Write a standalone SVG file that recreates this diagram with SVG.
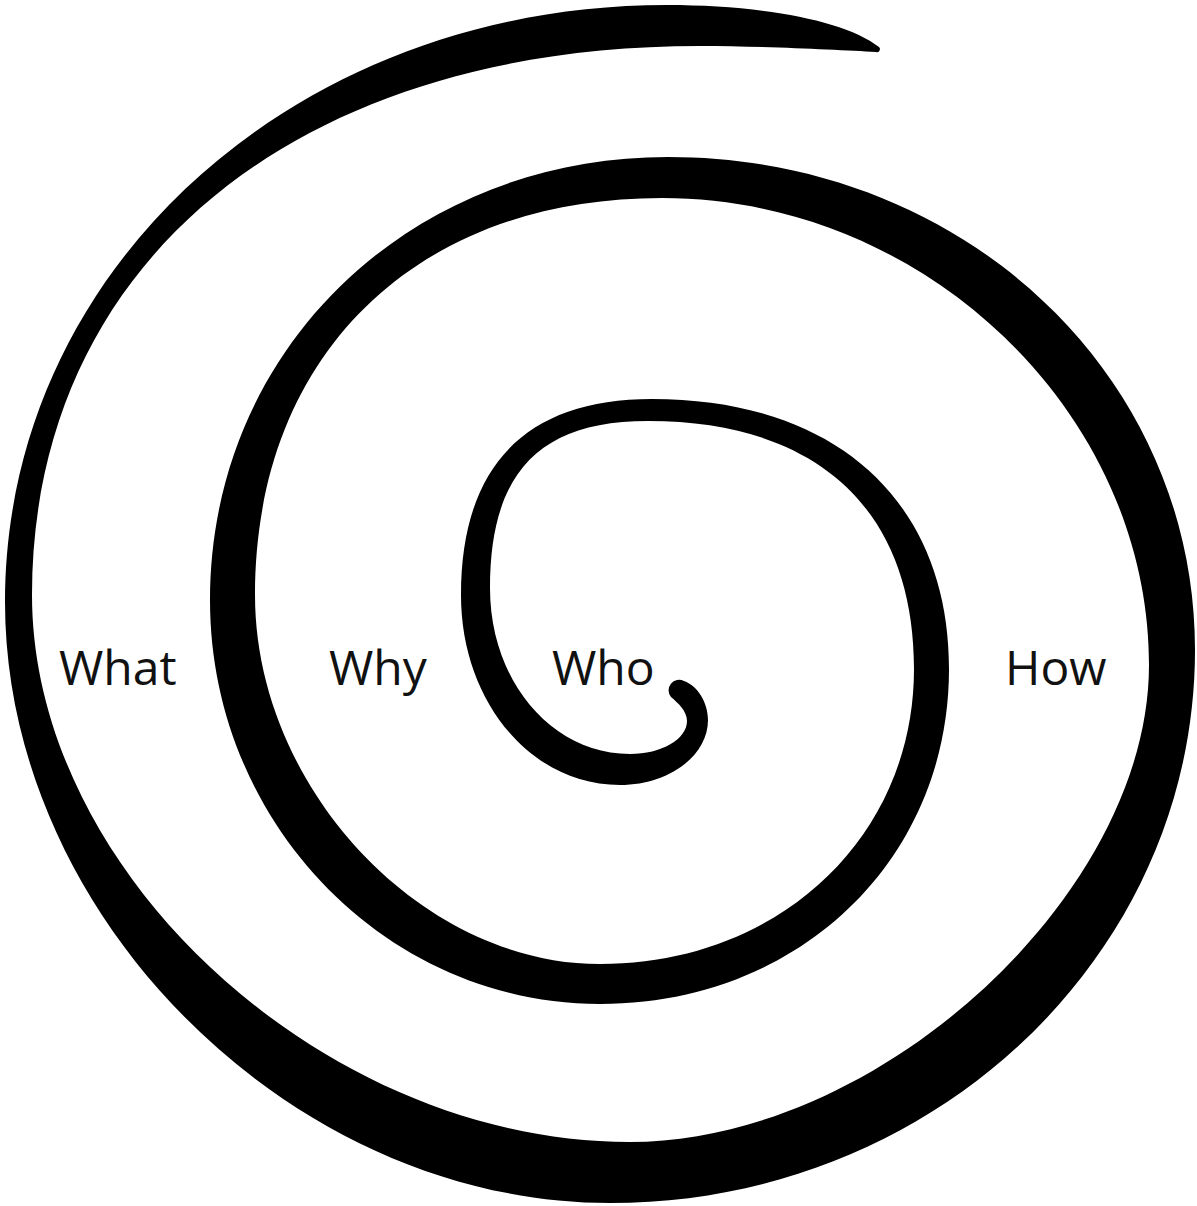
<svg xmlns="http://www.w3.org/2000/svg" width="1197" height="1206" viewBox="0 0 1197 1206">
<style>
.lbl{font-family:"Open Sans","DejaVu Sans",sans-serif;font-size:48px;fill:#111}
.sp{fill:#000;stroke:none}
</style>
<rect x="0" y="0" width="1197" height="1206" fill="#fff"/>
<g id="spiral">
<path class="sp" d="M 684 681
C 698 686 708 703 708 720
C 708 755.9 668.6 785 620 785
C 531 785 461 701.4 461 595
C 461 465.6 525.9 399 652 399
C 836.1 399 949 501.6 949 669
C 949 859.95 798.9 1004 600 1004
C 385.5 1004 210 822.2 210 600
C 210 349.7 409.2 157 668 157
C 963.1 157 1195 373.9 1195 650
C 1195 955.4 933.1 1203 610 1203
C 292.4 1203 5 917.5 5 602
C 5 267.7 296.3 5 667 5
C 760 5 845 20 879 47
A 3 3 0 0 1 876 52
C 840 50 760 46 700 46
C 295.9 46 32 262.9 32 595
C 32 874 325 1142 630 1142
C 879.1 1142 1149 894 1149 665
C 1149 412.8 925 198 662 198
C 415.8 198 255 354.8 255 595
C 255 786.9 420.6 964 600 964
C 779 964 914 837.2 914 669
C 914 510.3 818.2 421 648 421
C 539 421 490 472.8 490 588
C 490 681 551.6 754 630 754
C 661.4 754 687 739.2 687 721
C 687 711 678 703 671 697
A 10.5 10.5 0 0 1 684 681 Z"/>
</g>
<g id="labels">
<text id="what" class="lbl" x="59" y="685">What</text>
<text id="why" class="lbl" x="329" y="685">Why</text>
<text id="who" class="lbl" x="552" y="685">Who</text>
<text id="how" class="lbl" x="1005" y="685">How</text>
</g>
</svg>
